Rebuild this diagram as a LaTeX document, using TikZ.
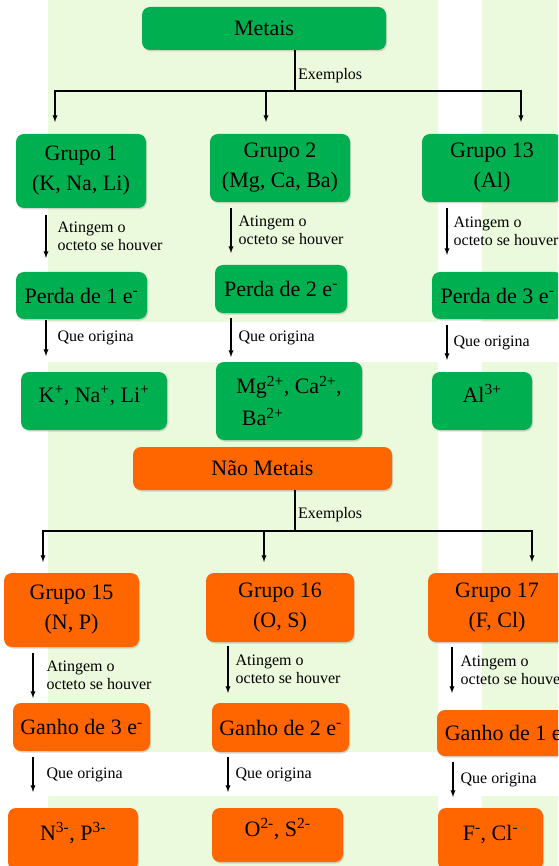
\documentclass[tikz,border=0pt]{standalone}
\usepackage{fontspec}
\setmainfont{Liberation Serif}
\usepackage{tikz}
\usetikzlibrary{shadows}
\usepackage{xcolor}
\definecolor{verde}{HTML}{00B050}
\definecolor{laranja}{HTML}{FF6600}
\definecolor{fundo}{HTML}{EBF9DC}
\tikzstyle{caixa}=[rounded corners=8pt, inner sep=0pt, align=center, font=\rmfamily\fontsize{22}{30}\selectfont, drop shadow={shadow xshift=1pt, shadow yshift=-1.5pt, opacity=0.3}]
\tikzstyle{metal}=[caixa, fill=verde]
\tikzstyle{naometal}=[caixa, fill=laranja]
\tikzstyle{ion}=[text height=16pt, text depth=14pt]
\tikzstyle{linha}=[line width=1.3pt]
\tikzstyle{seta}=[line width=1.3pt, -latex]
\tikzstyle{rotulo}=[font=\rmfamily\fontsize{16}{18}\selectfont, align=left, anchor=west, inner sep=0pt]

\begin{document}
\begin{tikzpicture}[x=1pt, y=-1pt]
\useasboundingbox (0,0) rectangle (558,866);
\clip (0,0) rectangle (558,866);
\fill[white] (0,0) rectangle (558,866);
\fill[fundo] (48,0) rectangle (438,866);
\fill[fundo] (482,0) rectangle (558,866);
\fill[white] (0,322) rectangle (558,362);
\fill[white] (0,752) rectangle (558,796);

% Metais
\node[metal, minimum width=244pt, minimum height=43pt] (metais) at (264,28.5) {Metais};
\foreach \n/\x/\y/\w/\h/\t in {
  {g1/81/171/130/74/Grupo 1\\(K, Na, Li)},
  {g2/280/168/140/68/Grupo 2\\(Mg, Ca, Ba)},
  {g13/492/168/140/68/Grupo 13\\(Al)},
  {p1/81.5/295.5/131/47/Perda de 1 e\textsuperscript{-}},
  {p2/281/289/132/48/Perda de 2 e\textsuperscript{-}},
  {p13/497.5/295.5/131/47/Perda de 3 e\textsuperscript{-}}}
  \node[metal, minimum width=\w pt, minimum height=\h pt] (\n) at (\x,\y) {\t};
\foreach \n/\x/\y/\w/\h/\t in {
  {r1/94/401/146/58/K\textsuperscript{+}, Na\textsuperscript{+}, Li\textsuperscript{+}},
  {r13/482/401/100/58/Al\textsuperscript{3+}}}
  \node[metal, ion, minimum width=\w pt, minimum height=\h pt] (\n) at (\x,\y) {\t};
\node[metal, align=left, minimum width=146pt, minimum height=78pt] (r2) at (289,401) {Mg\textsuperscript{2+}, Ca\textsuperscript{2+},\\[2pt]\ Ba\textsuperscript{2+}};

% Nao metais
\node[naometal, minimum width=259pt, minimum height=43pt] (naometais) at (262.5,468.5) {Não Metais};
\foreach \n/\x/\y/\w/\h/\t in {
  {g15/71.5/610/135/74/Grupo 15\\(N, P)},
  {g16/280/607.5/148/69/Grupo 16\\(O, S)},
  {g17/497/607.5/138/69/Grupo 17\\(F, Cl)},
  {n15/81.5/727/137/48/Ganho de 3 e\textsuperscript{-}},
  {n16/280.5/727.5/137/49/Ganho de 2 e\textsuperscript{-}},
  {n17/506/733/138/46/Ganho de 1 e\textsuperscript{-}}}
  \node[naometal, minimum width=\w pt, minimum height=\h pt] (\n) at (\x,\y) {\t};
\foreach \n/\x/\y/\w/\h/\t in {
  {o15/73/839/130/62/N\textsuperscript{3-}, P\textsuperscript{3-}},
  {o16/277.5/835/131/54/O\textsuperscript{2-}, S\textsuperscript{2-}},
  {o17/490.5/839/105/62/F\textsuperscript{-}, Cl\textsuperscript{-}}}
  \node[naometal, ion, minimum width=\w pt, minimum height=\h pt] (\n) at (\x,\y) {\t};

% arvores
\coordinate (m0) at (295,91);
\draw[linha] (metais.south -| m0) -- (m0);
\node[rotulo] (ex1) at (298,76) {Exemplos};
\foreach \n/\x in {1/55, 2/266, 3/521} {
  \coordinate (mt\n) at (\x,122);
  \draw[seta] (m0) -| (mt\n);
}
\coordinate (n0) at (295,531);
\draw[linha] (naometais.south -| n0) -- (n0);
\node[rotulo] (ex2) at (298,515) {Exemplos};
\foreach \n/\x in {1/43, 2/264, 3/532} {
  \coordinate (nt\n) at (\x,562);
  \draw[seta] (n0) -| (nt\n);
}

% setas verticais
\foreach \n/\x/\ya/\yb/\d in {a1/46/215/258/11, a2/231/208/253/7, a3/447/208/255/6, b1/33/653/698/13, b2/228/646/693/7, b3/452/647/693/8} {
  \coordinate (s\n) at (\x,\ya);
  \coordinate (e\n) at (\x,\yb);
  \draw[seta] (s\n) -- node[rotulo, xshift=\d pt] (l\n) {Atingem o\\octeto se houver} (e\n);
}
\foreach \n/\x/\ya/\yb/\d in {q1/46/320/356/11, q2/231/318/357/7, q3/447/325/360/6, u1/33/757/792/13, u2/228/757/792/7, u3/453/762/797/7} {
  \coordinate (s\n) at (\x,\ya);
  \coordinate (e\n) at (\x,\yb);
  \draw[seta] (s\n) -- node[rotulo, xshift=\d pt] (l\n) {Que origina} (e\n);
}
\end{tikzpicture}
\end{document}
